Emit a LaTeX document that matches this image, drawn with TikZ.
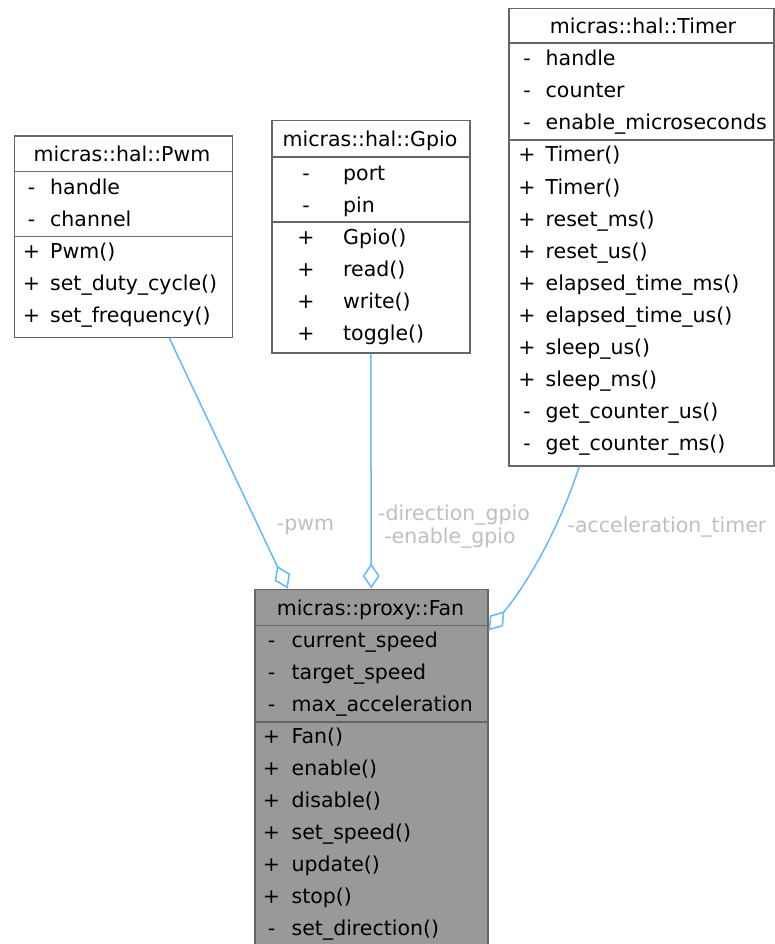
\documentclass[tikz,border=0pt]{standalone}
\usepackage{fontspec}
\setmainfont{DejaVu Sans}
\usetikzlibrary{arrows.meta}
\definecolor{edgeblue}{HTML}{63B8FF}
\definecolor{boxgray}{HTML}{666666}
\definecolor{fangray}{HTML}{999999}
\definecolor{labelgray}{HTML}{BFBFBF}
\begin{document}
\begin{tikzpicture}[x=1pt,y=-1pt,
  font=\fontsize{20.5pt}{24pt}\selectfont,
  classbox/.style={draw=boxgray, line width=1.5pt, fill=white, inner sep=0pt, anchor=north west},
  sepline/.style={draw=boxgray, line width=1.5pt},
  title/.style={anchor=base, inner sep=0pt},
  marker/.style={anchor=base, inner sep=0pt},
  member/.style={anchor=base west, inner sep=0pt},
  assoc/.style={draw=edgeblue, line width=1.5pt, -{Diamond[open, length=25pt, width=17pt]}},
  role/.style={text=labelgray, inner sep=0pt, anchor=base}]

\useasboundingbox (0,0) rectangle (774,944);

% ---- micras::hal::Pwm ----
\node[classbox, minimum width=218pt, minimum height=201pt] (pwm) at (13.5,135.5) {};
\draw[sepline] ([yshift=-36pt]pwm.north west) -- ([yshift=-36pt]pwm.north east);
\draw[sepline] ([yshift=-101pt]pwm.north west) -- ([yshift=-101pt]pwm.north east);
\node[title] (pwm-t) at (122,162) {micras::hal::Pwm};
\foreach \m/\n [count=\i from 0] in {-/handle, -/channel, +/Pwm(), +/set\_duty\_cycle(), +/set\_frequency()}{
  \node[marker] (pwm-m\i) at (31.5,{194+32*\i}) {\m};
  \node[member] (pwm-n\i) at (50,{194+32*\i}) {\n};
}

% ---- micras::hal::Gpio ----
\node[classbox, minimum width=198pt, minimum height=232pt] (gpio) at (271,120) {};
\draw[sepline] ([yshift=-37pt]gpio.north west) -- ([yshift=-37pt]gpio.north east);
\draw[sepline] ([yshift=-102pt]gpio.north west) -- ([yshift=-102pt]gpio.north east);
\node[title] (gpio-t) at (370,147) {micras::hal::Gpio};
\foreach \m/\n [count=\i from 0] in {-/port, -/pin, +/Gpio(), +/read(), +/write(), +/toggle()}{
  \node[marker] (gpio-m\i) at (306,{180+32*\i}) {\m};
  \node[member] (gpio-n\i) at (343,{180+32*\i}) {\n};
}

% ---- micras::hal::Timer ----
\node[classbox, minimum width=265pt, minimum height=457pt] (timer) at (508,8) {};
\draw[sepline] ([yshift=-35pt]timer.north west) -- ([yshift=-35pt]timer.north east);
\draw[sepline] ([yshift=-132pt]timer.north west) -- ([yshift=-132pt]timer.north east);
\node[title] (timer-t) at (643,33.5) {micras::hal::Timer};
\foreach \m/\n [count=\i from 0] in {-/handle, -/counter, -/enable\_microseconds,
    +/Timer(), +/Timer(), +/reset\_ms(), +/reset\_us(), +/elapsed\_time\_ms(),
    +/elapsed\_time\_us(), +/sleep\_us(), +/sleep\_ms(), -/get\_counter\_us(), -/get\_counter\_ms()}{
  \node[marker] (timer-m\i) at (527,{66+32*\i}) {\m};
  \node[member] (timer-n\i) at (545.5,{66+32*\i}) {\n};
}

% ---- micras::proxy::Fan ----
\node[classbox, fill=fangray, minimum width=233pt, minimum height=360pt] (fan) at (254,588.5) {};
\draw[sepline] ([yshift=-37pt]fan.north west) -- ([yshift=-37pt]fan.north east);
\draw[sepline] ([yshift=-133.5pt]fan.north west) -- ([yshift=-133.5pt]fan.north east);
\node[title] (fan-t) at (370.5,615) {micras::proxy::Fan};
\foreach \m/\n [count=\i from 0] in {-/current\_speed, -/target\_speed, -/max\_acceleration,
    +/Fan(), +/enable(), +/disable(), +/set\_speed(), +/update(), +/stop(), -/set\_direction()}{
  \node[marker] (fan-m\i) at (271.5,{647+32*\i}) {\m};
  \node[member] (fan-n\i) at (291.5,{647+32*\i}) {\n};
}

% ---- associations (aggregation diamonds at the Fan end) ----
\draw[assoc] ([xshift=46pt]pwm.south) -- ([xshift=-83.5pt]fan.north);
\draw[assoc] (gpio.south) -- (fan.north);
\draw[assoc] ([xshift=-62pt]timer.south) .. controls (562,520) and (532,578) .. ([yshift=-42pt]fan.north east);

% ---- role names ----
\node[role] (pwmrole) at (305.5,530) {-pwm};
\node[role] (dirrole) at (454,520) {-direction\_gpio};
\node[role] (enarole) at (450,543) {-enable\_gpio};
\node[role] (accrole) at (667,532) {-acceleration\_timer};
\end{tikzpicture}
\end{document}
